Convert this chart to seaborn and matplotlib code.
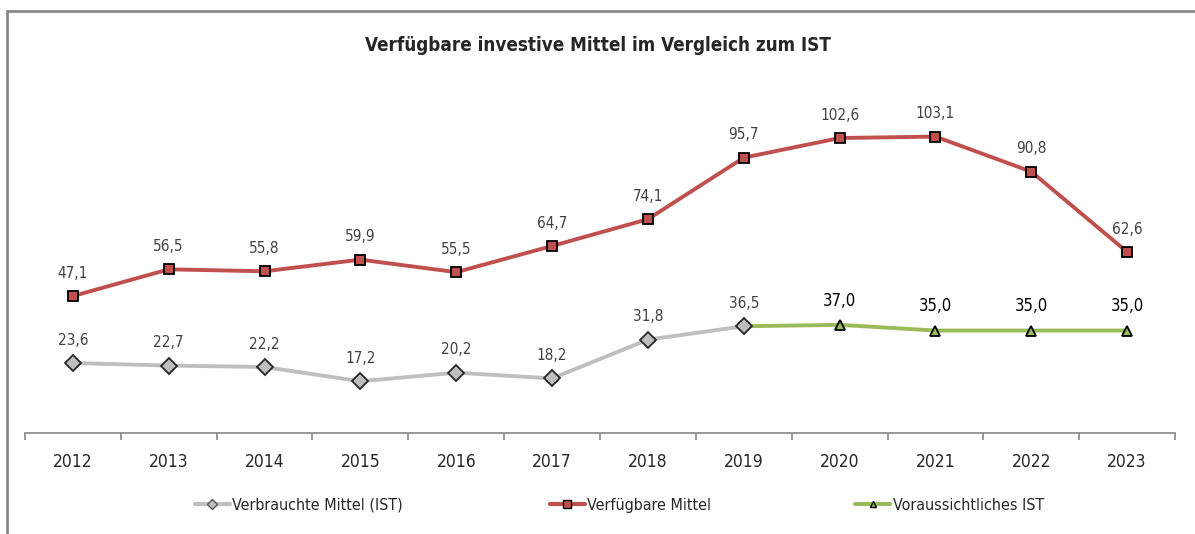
import pandas as pd
import matplotlib.pyplot as plt
import seaborn as sns
from matplotlib.lines import Line2D

# Data
years = [2012, 2013, 2014, 2015, 2016, 2017, 2018, 2019, 2020, 2021, 2022, 2023]
ist_years = [2012, 2013, 2014, 2015, 2016, 2017, 2018, 2019]
ist_values = [23.6, 22.7, 22.2, 17.2, 20.2, 18.2, 31.8, 36.5]
avail_values = [47.1, 56.5, 55.8, 59.9, 55.5, 64.7, 74.1, 95.7, 102.6, 103.1, 90.8, 62.6]
fc_years = [2019, 2020, 2021, 2022, 2023]
fc_values = [36.5, 37.0, 35.0, 35.0, 35.0]

pos = {y: i for i, y in enumerate(years)}
ist = pd.DataFrame({'x': [pos[y] for y in ist_years], 'v': ist_values})
avail = pd.DataFrame({'x': [pos[y] for y in years], 'v': avail_values})
fc = pd.DataFrame({'x': [pos[y] for y in fc_years], 'v': fc_values})

sns.set_style('white')
plt.rcParams['font.family'] = ['DejaVu Sans']
plt.rcParams['font.stretch'] = 'condensed'

RED = '#C0504D'
GRAY = '#BFBFBF'
GREEN = '#9BBB59'

fig = plt.figure(figsize=(11.95, 5.34), dpi=100)
ax = fig.add_axes([0.0209, 0.189, 0.9624, 0.64])

# Forecast line (no marker on the first point, that one belongs to IST)
sns.lineplot(data=fc, x='x', y='v', ax=ax, color=GREEN, linewidth=2.8, zorder=2)
sns.lineplot(data=fc.iloc[1:], x='x', y='v', ax=ax, color=GREEN, linewidth=0,
             marker='^', markersize=7, markerfacecolor=GREEN, markeredgecolor='black',
             markeredgewidth=1.3, zorder=4)
sns.lineplot(data=ist, x='x', y='v', ax=ax, color=GRAY, linewidth=2.8,
             marker='D', markersize=8.5, markerfacecolor='#BEBEBE', markeredgecolor='#262626',
             markeredgewidth=1.3, zorder=3)
sns.lineplot(data=avail, x='x', y='v', ax=ax, color=RED, linewidth=2.8,
             marker='s', markersize=7.5, markerfacecolor=RED, markeredgecolor='black',
             markeredgewidth=1.3, zorder=3)

# Data labels
def fmt(v):
    return f'{v:.1f}'.replace('.', ',')

for x, v in zip(ist['x'], ist['v']):
    ax.annotate(fmt(v), (x, v), xytext=(0, 11), textcoords='offset points',
                ha='center', va='bottom', fontsize=11, color='#404040')
for x, v in zip(avail['x'], avail['v']):
    ax.annotate(fmt(v), (x, v), xytext=(0, 11), textcoords='offset points',
                ha='center', va='bottom', fontsize=11, color='#404040')
for x, v in zip(fc['x'][1:], fc['v'][1:]):
    ax.annotate(fmt(v), (x, v), xytext=(0, 11), textcoords='offset points',
                ha='center', va='bottom', fontsize=12, color='black')

# Axes styling
ax.set_xlim(-0.5, len(years) - 0.5)
ax.set_ylim(-1, 119)
ax.set_yticks([])
ax.set_xlabel('')
ax.set_ylabel('')
for s in ['top', 'right', 'left']:
    ax.spines[s].set_visible(False)
ax.spines['bottom'].set_color('#868686')
ax.spines['bottom'].set_linewidth(1.2)
ax.set_xticks([i - 0.5 for i in range(len(years) + 1)])
ax.set_xticklabels([])
ax.set_xticks(range(len(years)), minor=True)
ax.set_xticklabels([str(y) for y in years], minor=True, fontsize=12.5)
ax.tick_params(axis='x', which='major', direction='out', length=5, color='#868686', width=1.2, bottom=True)
ax.tick_params(axis='x', which='minor', length=0, pad=14)

fig.text(0.5, 0.915, 'Verfügbare investive Mittel im Vergleich zum IST',
         ha='center', va='center', fontsize=13.5, fontweight='bold')

# Legend: one entry each, placed like the original
handles = [
    Line2D([], [], color=GRAY, linewidth=3, marker='D', markersize=5,
           markerfacecolor='#BEBEBE', markeredgecolor='#555555'),
    Line2D([], [], color=RED, linewidth=3, marker='s', markersize=6,
           markerfacecolor=RED, markeredgecolor='black'),
    Line2D([], [], color=GREEN, linewidth=3, marker='^', markersize=5,
           markerfacecolor=GREEN, markeredgecolor='black'),
]
labels = ['Verbrauchte Mittel (IST)', 'Verfügbare Mittel', 'Voraussichtliches IST']
leg_x = [0.163, 0.460, 0.7155]
for h, lab, lx in zip(handles, labels, leg_x):
    fig.legend([h], [lab], loc='center left', bbox_to_anchor=(lx, 0.054),
               frameon=False, fontsize=11.5, handlelength=2.2, handletextpad=0.15,
               borderpad=0, borderaxespad=0)

# Chart frame (top and left edges visible)
fig.add_artist(Line2D([0.0059, 1.0], [0.979, 0.979], transform=fig.transFigure,
                      color='#898989', linewidth=2))
fig.add_artist(Line2D([0.0059, 0.0059], [0.0, 0.979], transform=fig.transFigure,
                      color='#898989', linewidth=2))

plt.savefig('out.png', dpi=100)
